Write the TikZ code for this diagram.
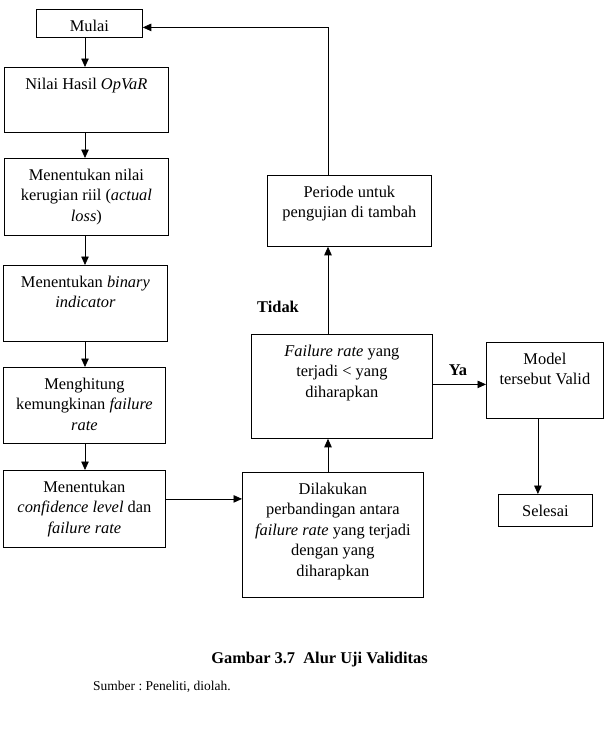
\documentclass[tikz,border=0pt]{standalone}
\usepackage{fontspec}
\setmainfont{Liberation Serif}
\usetikzlibrary{arrows.meta}
\frenchspacing

\tikzset{
  box/.style={draw, line width=0.8pt, inner sep=0pt, anchor=north west},
  lbl/.style={anchor=north, align=center, inner sep=0pt, yshift=-10.5pt},
  arr/.style={line width=0.8pt, -{Triangle[length=8.5pt,width=7.5pt]}}
}

\begin{document}
\begin{tikzpicture}[x=1pt,y=-1pt,font=\fontsize{16.4}{20.5}\selectfont]
\useasboundingbox (0,0) rectangle (605,734);

% kolom kiri
\node[box, minimum width=106, minimum height=28, label={[lbl]north:Mulai}] (mulai) at (36,9) {};
\node[box, minimum width=164, minimum height=65, label={[lbl]north:Nilai Hasil \textit{OpVaR}}] (nilai) at (4,67) {};
\node[box, minimum width=164, minimum height=77, label={[lbl]north:Menentukan nilai\\kerugian riil (\textit{actual}\\\textit{loss})}] (rugi) at (4,158) {};
\node[box, minimum width=164, minimum height=76, label={[lbl]north:Menentukan \textit{binary}\\\textit{indicator}}] (biner) at (3,265) {};
\node[box, minimum width=162, minimum height=76, label={[lbl]north:Menghitung\\kemungkinan \textit{failure}\\\textit{rate}}] (hitung) at (3,367) {};
\node[box, minimum width=162, minimum height=77, label={[lbl]north:Menentukan\\\textit{confidence level} dan\\\textit{failure rate}}] (conf) at (3,470) {};

% kolom tengah dan kanan
\node[box, minimum width=164, minimum height=71, label={[lbl]north:Periode untuk\\pengujian di tambah}] (periode) at (267,175) {};
\node[box, minimum width=181, minimum height=104, label={[lbl]north:\textit{Failure rate} yang\\terjadi < yang\\diharapkan}] (gagal) at (251,334) {};
\node[box, minimum width=181, minimum height=125, label={[lbl]north:Dilakukan\\perbandingan antara\\\textit{failure rate} yang terjadi\\dengan yang\\diharapkan}] (banding) at (242,472) {};
\node[box, minimum width=117, minimum height=76, label={[lbl]north:Model\\tersebut Valid}] (model) at (486,342) {};
\node[box, minimum width=94, minimum height=32, label={[lbl]north:Selesai}] (selesai) at (498,494) {};

\node[font=\fontsize{16.4}{20.5}\selectfont\bfseries] (tidak) at (278,307) {Tidak};
\node[font=\fontsize{16.4}{20.5}\selectfont\bfseries] (ya) at (458,370) {Ya};

\coordinate (cx) at (328,0);
\coordinate (kx) at (85,0);

\draw[arr] (mulai.south -| kx) -- (nilai.north -| kx);
\draw[arr] (nilai.south -| kx) -- (rugi.north -| kx);
\draw[arr] (rugi.south -| kx) -- (biner.north -| kx);
\draw[arr] (biner.south -| kx) -- (hitung.north -| kx);
\draw[arr] (hitung.south -| kx) -- (conf.north -| kx);
\draw[arr] ([yshift=10pt]conf.east) -- ([yshift=10pt]conf.east -| banding.west);
\draw[arr] (banding.north -| cx) -- (gagal.south -| cx);
\draw[arr] (gagal.north -| cx) -- (periode.south -| cx);
\draw[arr] (periode.north -| cx) |- ([yshift=-4pt]mulai.east);
\draw[arr] ([yshift=2pt]gagal.east) -- ([yshift=2pt]gagal.east -| model.west);
\draw[arr] ([xshift=-7pt]model.south) -- ([xshift=-7pt]model.south |- selesai.north);

% keterangan gambar
\node[font=\fontsize{16.4}{20}\selectfont\bfseries] (judul) at (319.5,660) {Gambar 3.7\ \ Alur Uji Validitas};
\node[font=\fontsize{13.5}{16}\selectfont, anchor=west, inner sep=0pt] (sumber) at (93,687) {Sumber : Peneliti, diolah.};
\end{tikzpicture}
\end{document}
